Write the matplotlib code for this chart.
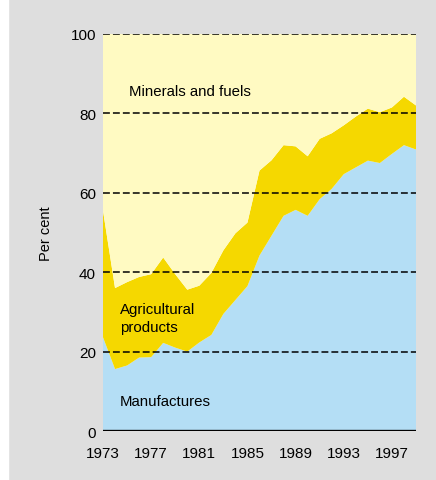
import matplotlib.pyplot as plt
import numpy as np

plt.rcParams['font.family'] = ['Liberation Sans', 'DejaVu Sans']

# share of exports, per cent
years = list(range(1973, 2000))
manufactures = [23.6, 15.6, 16.5, 18.5, 18.6, 22.2, 21.0, 20.0, 22.3, 24.2,
                29.5, 33.0, 36.5, 44.2, 49.2, 54.2, 55.7, 54.2, 58.4, 61.0,
                64.7, 66.4, 68.1, 67.5, 69.8, 72.0, 70.9]
agricultural = [31.9, 20.4, 21.0, 20.3, 20.9, 21.5, 18.5, 15.6, 14.3, 15.6,
                16.0, 16.8, 16.0, 21.4, 19.0, 17.8, 16.0, 15.0, 15.2, 14.0,
                12.3, 12.8, 13.1, 12.8, 11.7, 12.2, 11.1]
minerals = [44.5, 64.0, 62.5, 61.2, 60.5, 56.3, 60.5, 64.4, 63.4, 60.2,
            54.5, 50.2, 47.5, 34.4, 31.8, 28.0, 28.3, 30.8, 26.4, 25.0,
            23.0, 20.8, 18.8, 19.7, 18.5, 15.8, 18.0]

tick_years = [1973, 1977, 1981, 1985, 1989, 1993, 1997]
y_ticks = [0, 20, 40, 60, 80, 100]

bg = "#dedede"
fig = plt.figure(figsize=(4.36, 4.81), dpi=100, facecolor=bg)
# white strip on the left edge
fig.patches.append(plt.Rectangle((0, 0), 8 / 436, 1, transform=fig.transFigure,
                                 color="white", zorder=0))
ax = fig.add_axes([103 / 436, 1 - 432 / 481, 313 / 436, 397 / 481])

x = np.array(years)
ax.stackplot(x, manufactures, agricultural, minerals,
             colors=["#b4def5", "#f5d800", "#fffac2"], linewidth=0)

for v in y_ticks[1:]:
    ax.axhline(v, color="black", lw=1.1, ls=(0, (4.5, 2)), zorder=3)
ax.axhline(0, color="black", lw=2.4, zorder=4)

ax.set_xlim(1973, 1999)
ax.set_ylim(0, 100)
ax.set_xticks(tick_years)
ax.set_xticklabels([str(t) for t in tick_years])
ax.set_yticks(y_ticks)
ax.tick_params(length=0, labelsize=11, colors="black")
ax.tick_params(axis="x", pad=11)
ax.tick_params(axis="y", pad=5)
for s in ax.spines.values():
    s.set_visible(False)

ax.set_ylabel("Per cent", fontsize=10.5, labelpad=13)

ax.text(1975.2, 85.7, "Minerals and fuels", fontsize=10.8, va="center")
ax.text(1974.4, 28.5, "Agricultural\nproducts", fontsize=10.8, va="center",
        linespacing=1.3)
ax.text(1974.4, 7.6, "Manufactures", fontsize=10.8, va="center")

plt.savefig("out.png", dpi=100, facecolor=bg)
